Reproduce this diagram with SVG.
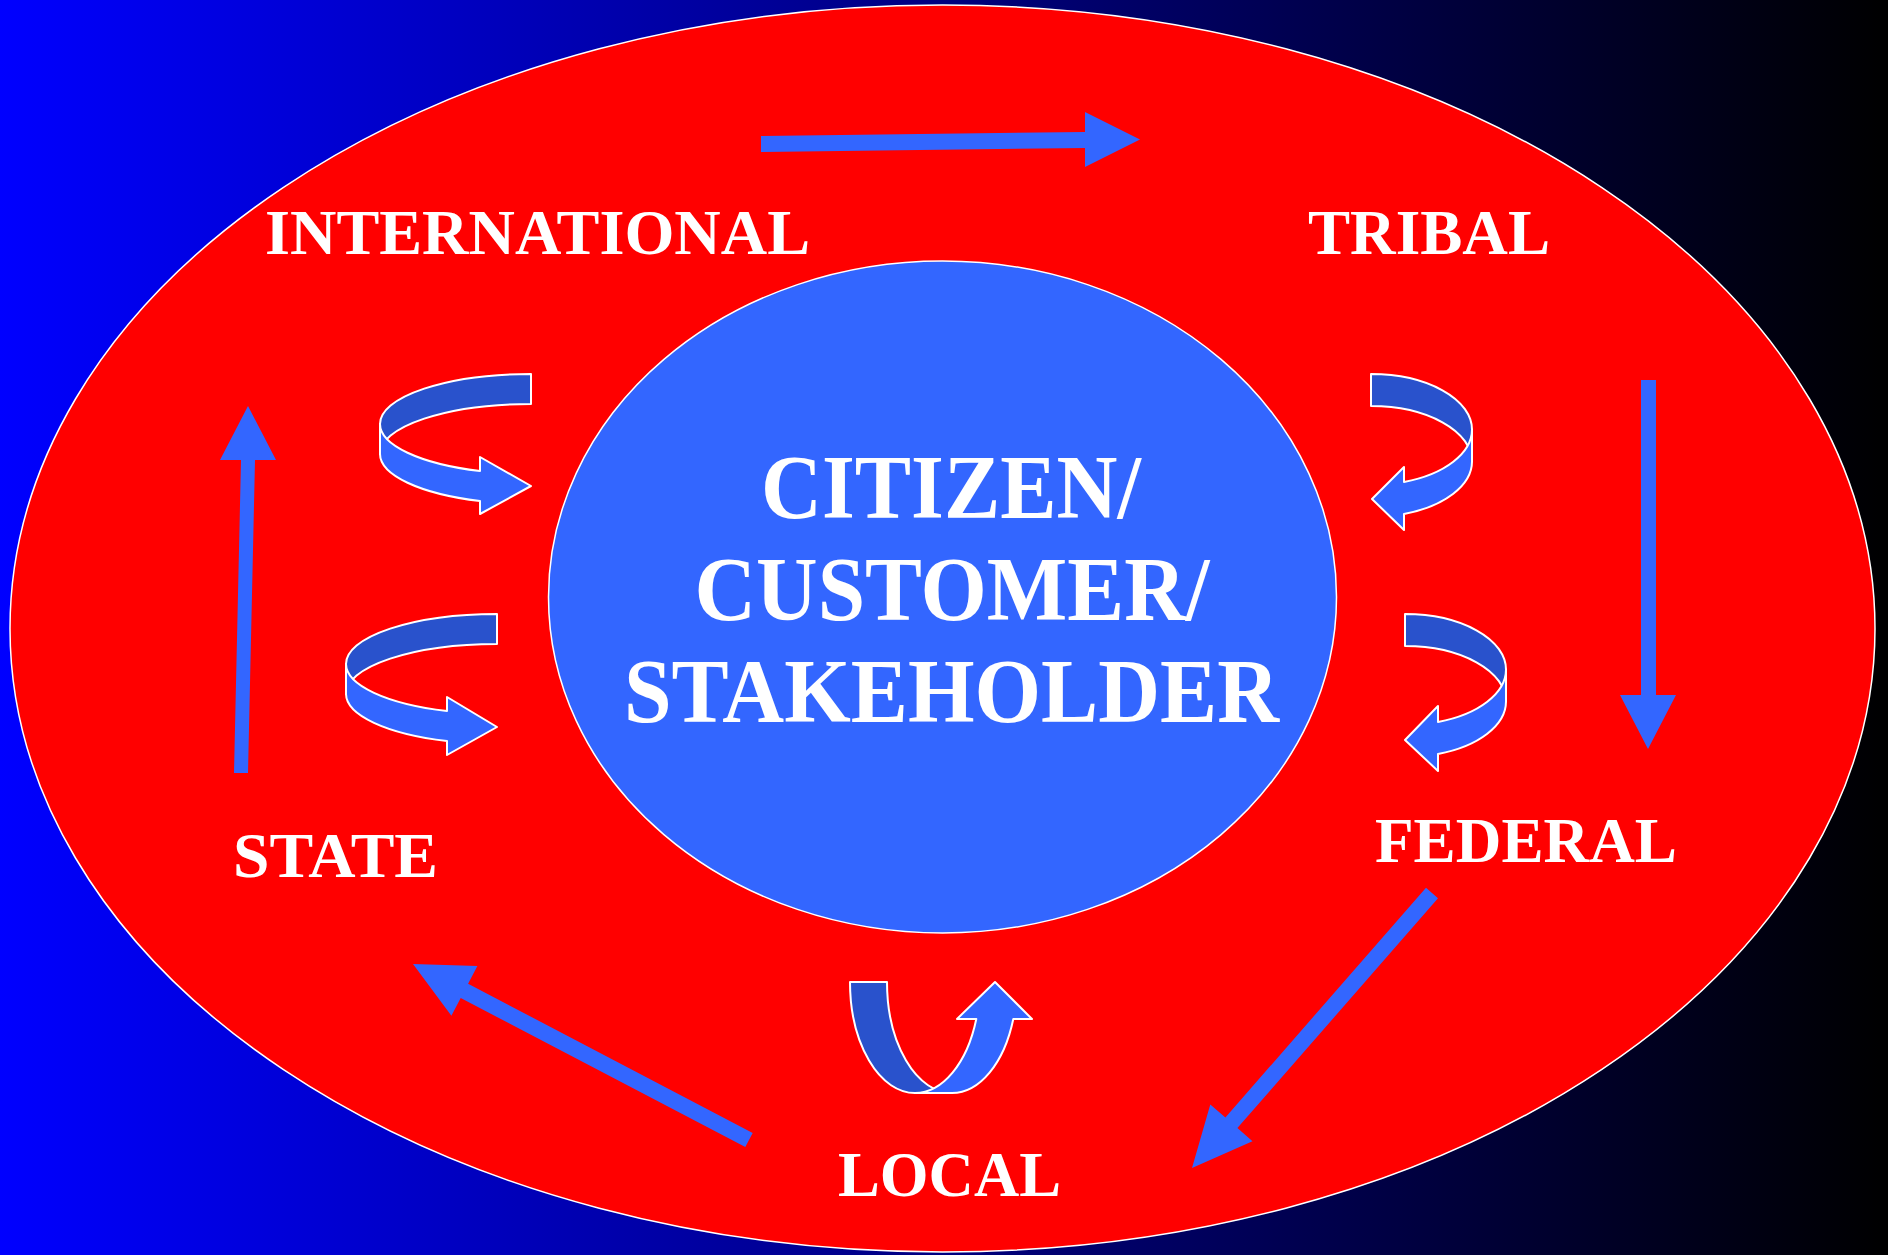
<svg xmlns="http://www.w3.org/2000/svg" width="1888" height="1255" viewBox="0 0 1888 1255">
<defs>
<linearGradient id="bg" x1="0" y1="0" x2="1" y2="0">
<stop offset="0" stop-color="#0000FF"/>
<stop offset="1" stop-color="#000000"/>
</linearGradient>
</defs>
<style>
.lbl{font-family:"Liberation Serif","Times New Roman",serif;font-weight:bold;fill:#FFFFFF;font-size:64px}
.ctr{font-family:"Liberation Serif","Times New Roman",serif;font-weight:bold;fill:#FFFFFF;font-size:90px;text-anchor:middle}
.arr{fill:#3366FF;stroke:none}
.back{fill:#2952CC;stroke:#FFFFFF;stroke-width:2;stroke-linejoin:round}
.front{fill:#3366FF;stroke:#FFFFFF;stroke-width:2;stroke-linejoin:round}
</style>
<rect x="0" y="0" width="1888" height="1255" fill="url(#bg)"/>
<g id="outer">
<ellipse cx="942.5" cy="628.5" rx="932.5" ry="623.5" fill="#FF0000" stroke="#FFFFFF" stroke-width="1.5"/>
</g>
<g id="center">
<ellipse cx="942.5" cy="597" rx="394" ry="336" fill="#3366FF" stroke="#FFFFFF" stroke-width="1.5"/>
<text class="ctr" x="951" y="518" textLength="380" lengthAdjust="spacingAndGlyphs">CITIZEN/</text>
<text class="ctr" x="952" y="620" textLength="515" lengthAdjust="spacingAndGlyphs">CUSTOMER/</text>
<text class="ctr" x="951.5" y="722" textLength="655" lengthAdjust="spacingAndGlyphs">STAKEHOLDER</text>
</g>
<g id="international"><text class="lbl" x="265" y="254" textLength="545" lengthAdjust="spacingAndGlyphs">INTERNATIONAL</text></g>
<g id="tribal"><text class="lbl" x="1308" y="254" textLength="242" lengthAdjust="spacingAndGlyphs">TRIBAL</text></g>
<g id="federal"><text class="lbl" x="1375" y="862" textLength="302" lengthAdjust="spacingAndGlyphs">FEDERAL</text></g>
<g id="local"><text class="lbl" x="838" y="1196" textLength="223" lengthAdjust="spacingAndGlyphs">LOCAL</text></g>
<g id="state"><text class="lbl" x="233" y="877" textLength="205" lengthAdjust="spacingAndGlyphs">STATE</text></g>
<g id="connectors">
<polygon class="arr" points="761,136 1085,132 1085,112 1140,139.5 1085,167 1085,148 761,152"/>
<polygon class="arr" points="1641,380 1656,380 1656,695 1676,695 1648,749 1620,695 1641,695"/>
<polygon class="arr" points="1438,898.3 1237.4,1128.1 1252.5,1141.2 1192,1168 1210.3,1104.4 1225.4,1117.5 1426,887.7"/>
<polygon class="arr" points="752.7,1132.9 468.1,983.8 477.4,966.1 413,964 451.4,1015.7 460.7,998 745.3,1147.1"/>
<polygon class="arr" points="234,773 241,460 220,460 248,406 276,460 255,460 248,773"/>
<g id="curl-tl">
<path class="back" d="M531,374 A151 50 0 0 0 380,424 L380,454 A151 50 0 0 1 531,404 Z"/>
<path class="front" d="M380,424 A151 50 0 0 0 480,471 L480,457 L531,486 L480,514 L480,501 A151 50 0 0 1 380,454 Z"/>
</g>
<g id="curl-bl">
<path class="back" d="M497,614 A151 50 0 0 0 346,664 L346,694 A151 50 0 0 1 497,644 Z"/>
<path class="front" d="M346,664 A151 50 0 0 0 447,711 L447,697 L497,727 L447,755 L447,741 A151 50 0 0 1 346,694 Z"/>
</g>
<g id="curl-tr">
<path class="back" d="M1371,374 A101 55.5 0 0 1 1472,429.5 L1472,461.5 A101 55.5 0 0 0 1371,406 Z"/>
<path class="front" d="M1472,429.5 A101 55.5 0 0 1 1404,482 L1404,467 L1372,499 L1404,530 L1404,514 A101 55.5 0 0 0 1472,461.5 Z"/>
</g>
<g id="curl-br">
<path class="back" d="M1405,614 A101 55.5 0 0 1 1506,669.5 L1506,701.5 A101 55.5 0 0 0 1405,646 Z"/>
<path class="front" d="M1506,669.5 A101 55.5 0 0 1 1438,722 L1438,706 L1405,740 L1438,771 L1438,754 A101 55.5 0 0 0 1506,701.5 Z"/>
</g>
<g id="curl-bottom">
<path class="back" d="M850,982 A65 111 0 0 0 915,1093 L952,1093 A65 111 0 0 1 887,982 Z"/>
<path class="front" d="M915,1093 A65 111 0 0 0 976.3,1019 L957,1019 L995,982 L1032,1019 L1013.3,1019 A65 111 0 0 1 952,1093 Z"/>
</g>
</g>
</svg>
